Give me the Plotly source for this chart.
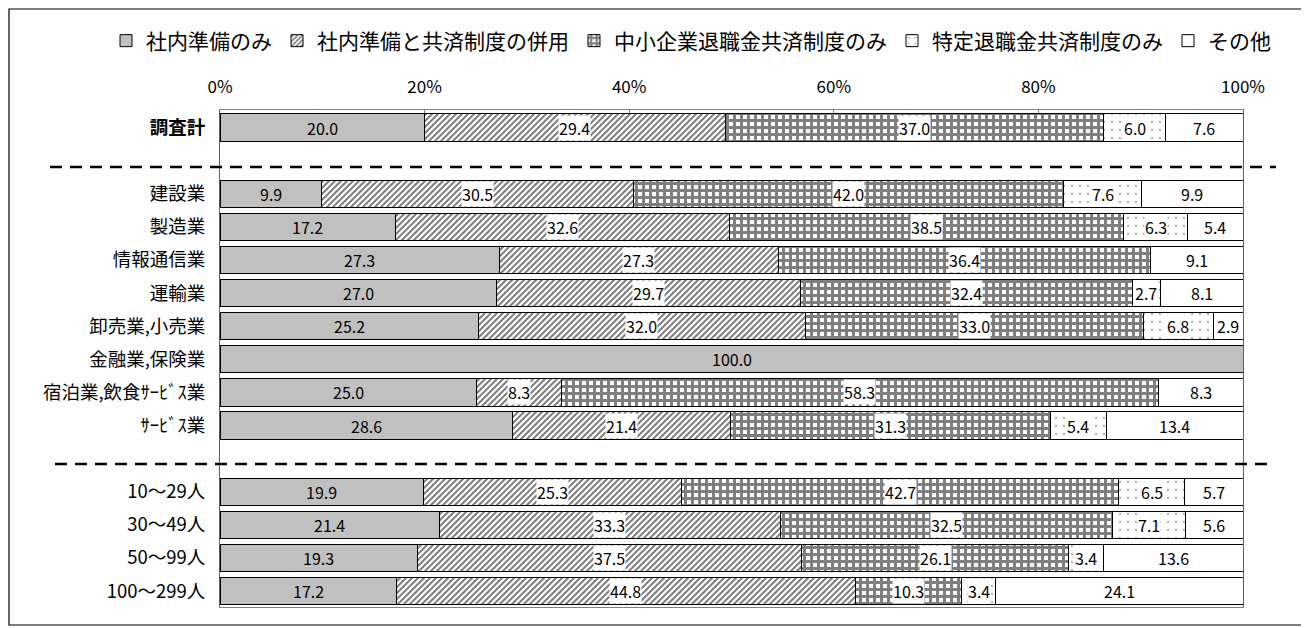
import plotly.graph_objects as go

# categories (top to bottom) and their slot on the y axis (gaps at 1 and 10)
categories = ['<b>調査計</b>', '建設業', '製造業', '情報通信業', '運輸業', '卸売業,小売業',
              '金融業,保険業', '宿泊業,飲食ｻｰﾋﾞｽ業', 'ｻｰﾋﾞｽ業',
              '10～29人', '30～49人', '50～99人', '100～299人']
rows = [0, 2, 3, 4, 5, 6, 7, 8, 9, 11, 12, 13, 14]

names = ['社内準備のみ', '社内準備と共済制度の併用', '中小企業退職金共済制度のみ',
         '特定退職金共済制度のみ', 'その他']

shanai = [20.0, 9.9, 17.2, 27.3, 27.0, 25.2, 100.0, 25.0, 28.6, 19.9, 21.4, 19.3, 17.2]
heiyou = [29.4, 30.5, 32.6, 27.3, 29.7, 32.0, 0, 8.3, 21.4, 25.3, 33.3, 37.5, 44.8]
chusho = [37.0, 42.0, 38.5, 36.4, 32.4, 33.0, 0, 58.3, 31.3, 42.7, 32.5, 26.1, 10.3]
tokutei = [6.0, 7.6, 6.3, 0, 2.7, 6.8, 0, 0, 5.4, 6.5, 7.1, 3.4, 3.4]
sonota = [7.6, 9.9, 5.4, 9.1, 8.1, 2.9, 0, 8.3, 13.4, 5.7, 5.6, 13.6, 24.1]

series = [shanai, heiyou, chusho, tokutei, sonota]

FONT = 'Noto Sans CJK JP'

fills = [
    dict(color='#c0c0c0'),
    dict(color='white', pattern=dict(shape='/', fgcolor='#000000', bgcolor='white',
                                     size=4.2426, solidity=0.48)),
    dict(color='white', pattern=dict(shape='+', fgcolor='#000000', bgcolor='white',
                                     size=7, solidity=0.67)),
    dict(color='white', pattern=dict(shape='.', fgcolor='#303030', bgcolor='white',
                                     size=8, solidity=0.05)),
    dict(color='white'),
]

fig = go.Figure()
for name, vals, f in zip(names, series, fills):
    marker = dict(line=dict(color='#000000', width=1))
    marker.update(f)
    fig.add_trace(go.Bar(
        name=name,
        y=rows,
        x=[v if v else None for v in vals],
        orientation='h',
        marker=marker,
    ))

# value labels centred in each segment (positions from normalised data)
annotations = []
for r in range(len(rows)):
    total = sum(s[r] for s in series)
    left = 0
    for k, s in enumerate(series):
        v = s[r]
        if v:
            share = v / total * 100
            annotations.append(dict(
                x=left + share / 2, y=rows[r], xref='x', yref='y',
                text=f'{v:.1f}', showarrow=False,
                font=dict(family=FONT, size=16, color='black'),
                bgcolor='white' if k in (1, 2, 3) else None,
                borderpad=0,
            ))
            left += share

# page body has an 8px margin, so the figure is laid out 8px in from the window
OFF = 8
W, H = 1309 - OFF, 628 - OFF
L, R, T, B = 220 - OFF, 1243 - OFF, 110 - OFF, 607 - OFF

def px(sx):
    return (sx - OFF - L) / (R - L)

def py(sy):
    return (B - (sy - OFF)) / (B - T)

shapes = [
    dict(type='line', xref='paper', yref='y', x0=px(50), x1=px(1276), y0=1.19, y1=1.19,
         line=dict(color='black', width=2.5, dash='12px,8px')),
    dict(type='line', xref='paper', yref='y', x0=px(55), x1=px(1274), y0=10.16, y1=10.16,
         line=dict(color='black', width=2.5, dash='12px,8px')),
    dict(type='rect', xref='paper', yref='paper', x0=px(OFF + 1), x1=px(1303),
         y0=py(OFF + 1), y1=py(625),
         line=dict(color='black', width=1.2), fillcolor='rgba(0,0,0,0)', layer='below'),
]

fig.update_layout(
    width=W, height=H,
    barmode='stack', barnorm='percent', bargap=0.18,
    plot_bgcolor='white', paper_bgcolor='white',
    margin=dict(l=L, r=W - R, t=T, b=H - B),
    font=dict(family=FONT, color='black'),
    showlegend=True,
    legend=dict(orientation='h', xref='paper', yref='paper',
                x=px(106), xanchor='left', y=py(41), yanchor='middle',
                bgcolor='rgba(0,0,0,0)',
                font=dict(family=FONT, size=21), itemwidth=30, traceorder='normal'),
    annotations=annotations,
    shapes=shapes,
)

fig.update_xaxes(
    side='top', range=[0, 100], tickvals=[0, 20, 40, 60, 80, 100],
    ticktext=['0%', '20%', '40%', '60%', '80%', '100%'],
    tickfont=dict(family=FONT, size=17), showgrid=False, zeroline=False,
    showline=True, mirror=True, linecolor='#808080', linewidth=1,
    ticks='inside', ticklen=3, tickcolor='#808080', ticklabelstandoff=9,
)
fig.update_yaxes(
    range=[14.48, -0.53], tickvals=rows, ticktext=categories,
    tickfont=dict(family=FONT, size=18.5), showgrid=False, zeroline=False,
    showline=True, mirror=True, linecolor='#606060', linewidth=1,
    ticks='', ticklabelstandoff=10,
)

fig.write_html('out.html')
